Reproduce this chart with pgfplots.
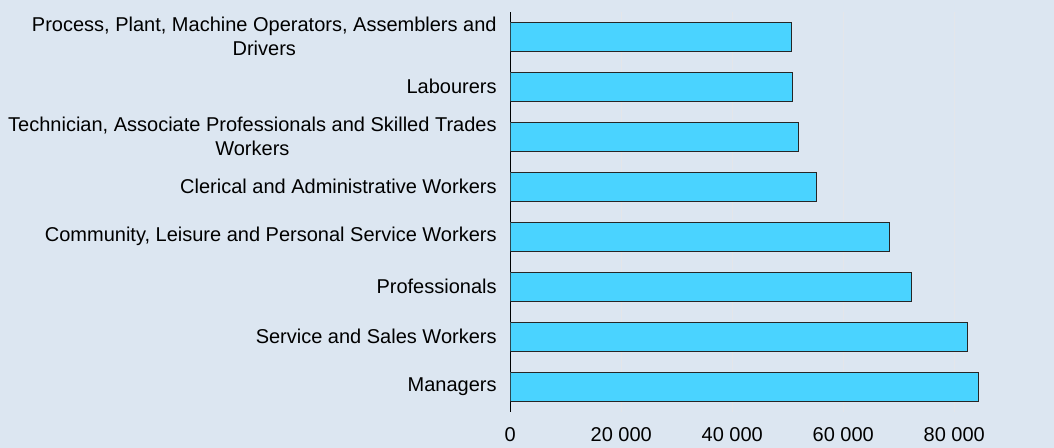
\documentclass[border=0pt]{standalone}
\usepackage{pgfplots}
\pgfplotsset{compat=1.18}
\usepackage{fontspec}
\setmainfont{Liberation Sans}

\definecolor{bgcol}{HTML}{DCE6F1}
\definecolor{barcol}{HTML}{4AD3FF}
\definecolor{gridcol}{HTML}{E4E6EA}

\begin{document}
\begin{tikzpicture}[x=1pt,y=1pt]
  \fill[bgcol] (0,0) rectangle (527,224);
  \begin{axis}[
      at={(255.15pt,18.15pt)}, anchor=south west,
      scale only axis, width=249.75pt, height=200pt,
      xmin=0, xmax=90000, ymin=-0.5, ymax=7.5,
      xbar, bar width=14.5pt,
      separate axis lines,
      axis x line*=bottom, x axis line style={draw=none},
      axis y line*=left, y axis line style={draw=black, line width=0.6pt},
      major tick length=0pt,
      xmajorgrids, grid style={gridcol, line width=0.5pt},
      xtick={0,20000,40000,60000,80000},
      xticklabels={0,20 000,40 000,60 000,80 000},
      ytick={0,1,2,3,4,5,6,7},
      yticklabels={Managers, Service and Sales Workers, Professionals,
        {Community, Leisure and Personal Service Workers},
        Clerical and Administrative Workers,
        {Technician, Associate Professionals and Skilled Trades\\Workers},
        Labourers,
        {Process, Plant, Machine Operators, Assemblers and\\Drivers}},
      yticklabel style={align=center, inner sep=0pt, xshift=-6.65pt,
        font=\fontsize{10}{12}\selectfont},
      xticklabel style={inner sep=0pt, yshift=-7.6pt,
        font=\fontsize{10}{12}\selectfont},
      /pgf/number format/assume math mode=true,
    ]
    \addplot[fill=barcol, draw=black!85, line width=0.5pt] coordinates {
      (84450,0)
      (82400,1)
      (72300,2)
      (68350,3)
      (55150,4)
      (51950,5)
      (50900,6)
      (50650,7)
    };
  \end{axis}
  \pgfresetboundingbox
  \path (0,0) rectangle (527,224);
\end{tikzpicture}
\end{document}
